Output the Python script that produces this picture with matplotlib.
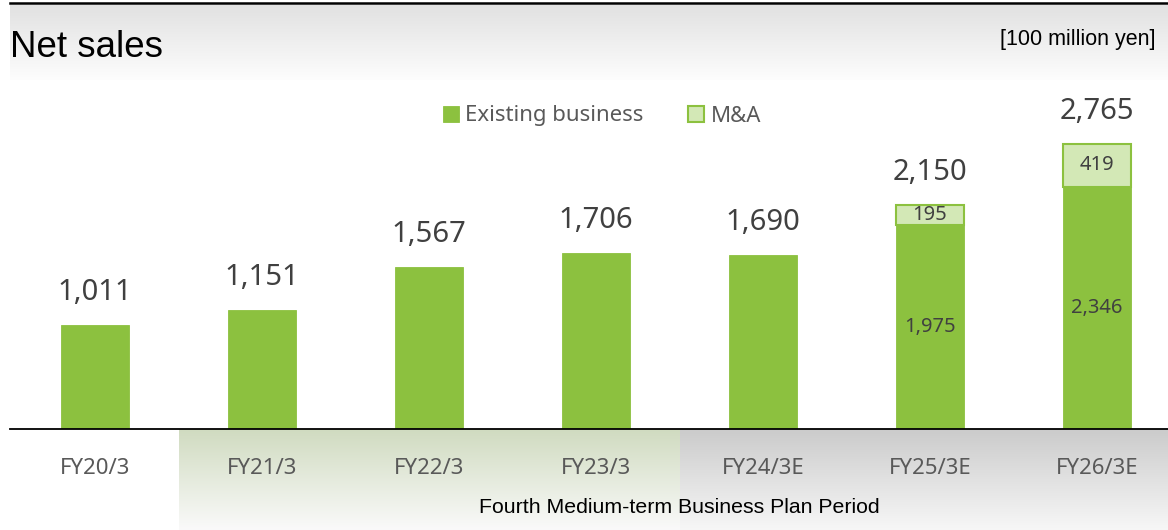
import numpy as np
import matplotlib.pyplot as plt
from matplotlib.patches import Patch

# Net sales by fiscal year, in units of 100 million yen
years = ['FY20/3', 'FY21/3', 'FY22/3', 'FY23/3', 'FY24/3E', 'FY25/3E', 'FY26/3E']
existing = [1011, 1151, 1567, 1706, 1690, 1975, 2346]
ma = [0, 0, 0, 0, 0, 195, 419]
totals = [1011, 1151, 1567, 1706, 1690, 2150, 2765]
plan_start, plan_end = 0.5, 3.5

GREEN = '#8cc13f'
LIGHT = '#d3e8b6'
TEXT = '#404040'
TICK = '#595959'

W, H = 1168, 530

def px_box(left, top, right, bottom):
   # pixel box (from top-left) to figure fraction [l, b, w, h]
   return [left / W, 1 - bottom / H, (right - left) / W, (bottom - top) / H]

def gradient(ax, extent, top, bottom):
   top = np.array(plt.matplotlib.colors.to_rgb(top))
   bottom = np.array(plt.matplotlib.colors.to_rgb(bottom))
   t = np.linspace(0, 1, 256)[:, None]
   img = (top * (1 - t) + bottom * t)[:, None, :]
   ax.imshow(img, extent=extent, aspect='auto', origin='upper', interpolation='bilinear')

fig = plt.figure(figsize=(W / 100, H / 100), dpi=100)

x = np.arange(len(years))
xlim = ((10 - 95) / 167, (1168 - 95) / 167)

# header strip
head = fig.add_axes(px_box(10, 5, 1168, 80))
gradient(head, [0, 1, 0, 1], '#e1e1e1', '#fdfdfd')
head.set_xlim(0, 1)
head.set_ylim(0, 1)
head.axis('off')
fig.add_artist(plt.Line2D([10 / W, 1], [1 - 3 / H, 1 - 3 / H], color='black', lw=1.8))

fig.text(10 / W, 1 - 57 / H, 'Net sales', fontsize=26.5, family='Liberation Sans',
         color='black', va='baseline', ha='left')
fig.text(1156 / W, 1 - 40 / H, '[100 million yen]', fontsize=15.5, family='Liberation Sans',
         color='black', va='center', ha='right')

# plan period band under the axis
band = fig.add_axes(px_box(10, 429, 1168, 530))
band.set_zorder(0)
gradient(band, [plan_start, plan_end, 0, 1], '#d0dbc0', '#fafafa')
gradient(band, [plan_end, xlim[1], 0, 1], '#cbcbcb', '#f7f7f7')
band.set_xlim(*xlim)
band.set_ylim(0, 1)
band.axis('off')
band.text(plan_end, 0.22, 'Fourth Medium-term Business Plan Period', fontsize=15.3,
          family='Liberation Sans', color='black', ha='center', va='center')

# bars
ax = fig.add_axes(px_box(10, 80, 1168, 429))
ax.set_zorder(1)
ax.patch.set_alpha(0)
width = 68 / 167
ax.bar(x, existing, width, color=GREEN, edgecolor=GREEN, lw=0.6)
ma_bars = ax.bar(x, ma, width, bottom=existing, color=LIGHT, edgecolor=GREEN, lw=1.5)
for b, v in zip(ma_bars, ma):
   if v == 0:
      b.set_visible(False)

ax.set_xlim(*xlim)
ax.set_ylim(0, (429 - 80) / 0.1032)

for i in range(len(years)):
   ax.annotate(f'{totals[i]:,}', (x[i], existing[i] + ma[i]), xytext=(0, 18),
               textcoords='offset points', ha='center', va='baseline',
               fontsize=21, family='Noto Sans', color=TEXT)
   if ma[i]:
      ax.text(x[i], existing[i] / 2, f'{existing[i]:,}', ha='center', va='center',
              fontsize=14.5, family='Noto Sans', color=TEXT)
      ax.text(x[i], existing[i] + ma[i] / 2, f'{ma[i]:,}', ha='center', va='center',
              fontsize=14.5, family='Noto Sans', color=TEXT)

ax.set_xticks(x)
ax.set_xticklabels(years, family='Noto Sans', fontsize=16, color=TICK)
ax.tick_params(axis='x', length=0, pad=21)
ax.set_yticks([])
for s in ['top', 'left', 'right']:
   ax.spines[s].set_visible(False)
ax.spines['bottom'].set_color('black')
ax.spines['bottom'].set_linewidth(1.3)

handles = [Patch(facecolor=GREEN, edgecolor=GREEN, lw=0.6, label='Existing business'),
           Patch(facecolor=LIGHT, edgecolor=GREEN, lw=1.5, label='M&A')]
ax.legend(handles=handles, ncol=2, loc='center', bbox_to_anchor=(602 / W, 1 - 116 / H),
          bbox_transform=fig.transFigure, frameon=False, handlelength=0.72,
          handleheight=0.72, handletextpad=0.3, columnspacing=2.0,
          prop={'family': 'Noto Sans', 'size': 16}, labelcolor=TICK)

fig.savefig('out.png', dpi=100)
